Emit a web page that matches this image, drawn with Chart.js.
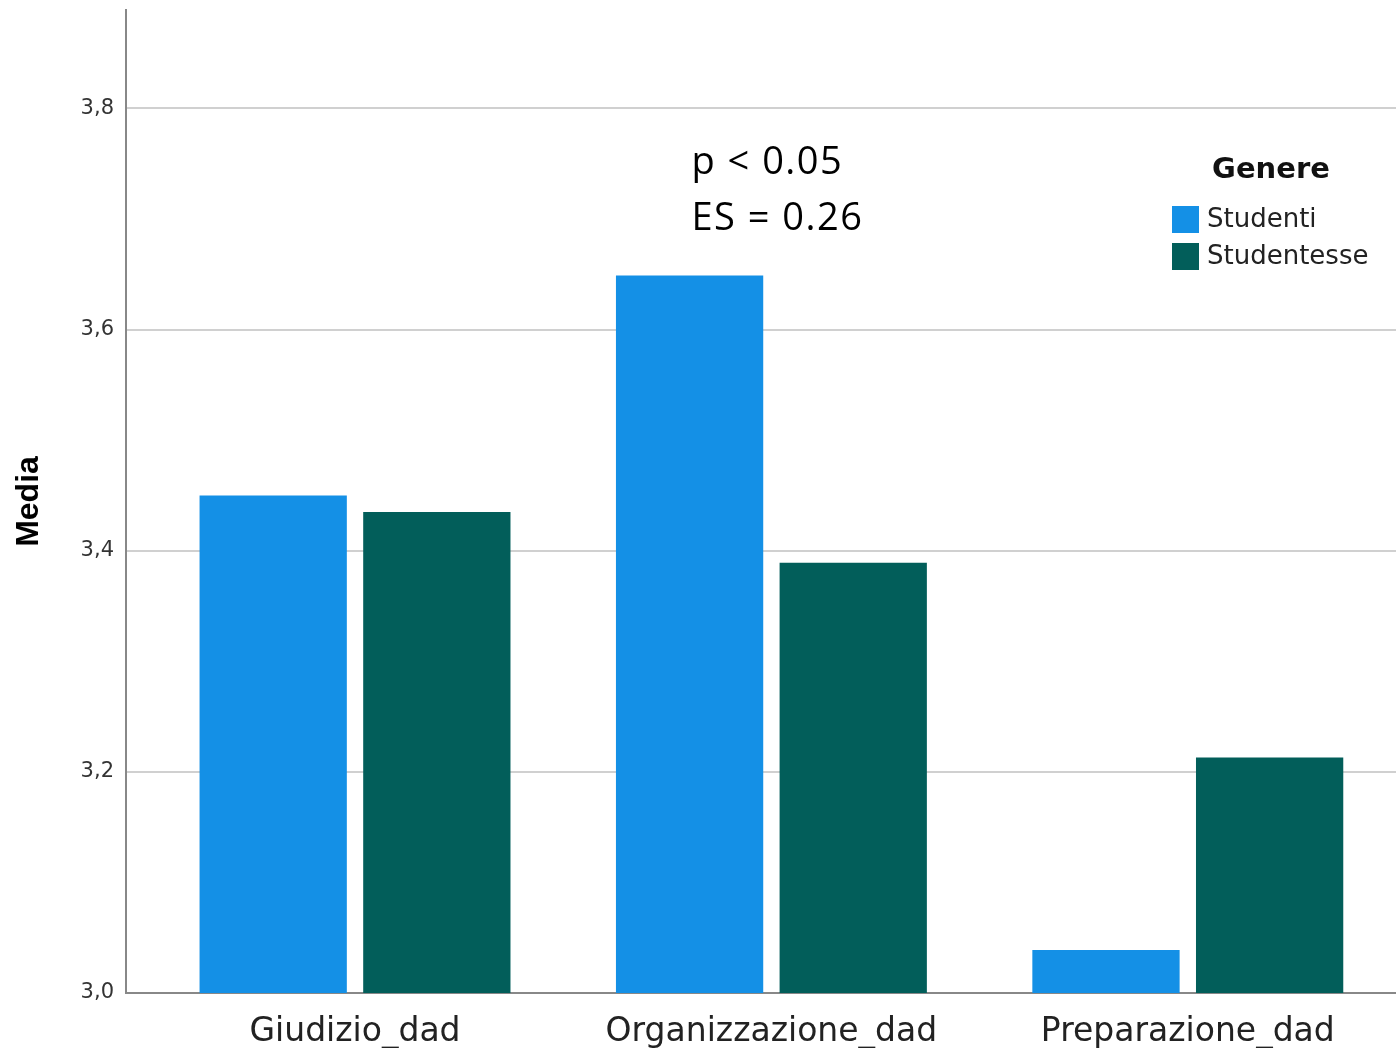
<!DOCTYPE html>
<html>
<head>
<meta charset="utf-8">
<script src="https://cdn.jsdelivr.net/npm/chart.js@4/dist/chart.umd.min.js"></script>
<style>
  body { margin: 0; background: #fff; overflow: hidden; }
</style>
</head>
<body>
<canvas id="graphCanvas" width="1396" height="1048"></canvas>
<script>
const categories = ['Giudizio_dad', 'Organizzazione_dad', 'Preparazione_dad'];
const studenti = [3.45, 3.649, 3.039];
const studentesse = [3.435, 3.389, 3.213];
const seriesNames = ['Studenti', 'Studentesse'];
const yTicks = [3.0, 3.2, 3.4, 3.6, 3.8];
const legendTitle = 'Genere';
const noteLines = ['p < 0.05', 'ES = 0.26'];

const toPoints = vals => vals.map((v, i) => ({ x: i, y: v }));

// legend drawn by hand, SPSS style
const legendPlugin = {
  id: 'spssLegend',
  afterDraw(chart) {
    const ctx = chart.ctx;
    const right = chart.chartArea.right;
    const x0 = right - 224;
    ctx.save();
    ctx.fillStyle = '#111';
    ctx.font = 'bold 29px "DejaVu Sans"';
    ctx.textAlign = 'center';
    ctx.textBaseline = 'alphabetic';
    ctx.fillText(legendTitle, x0 + 99, 178);
    ctx.textAlign = 'left';
    ctx.textBaseline = 'middle';
    ctx.font = '26px "DejaVu Sans"';
    chart.data.datasets.forEach((ds, i) => {
      const y = 206 + i * 37;
      ctx.fillStyle = ds.backgroundColor;
      ctx.fillRect(x0, y, 27, 27);
      ctx.fillStyle = '#222';
      ctx.fillText(ds.label, x0 + 35, y + 14);
    });
    ctx.restore();
  }
};

// p-value / effect size note over the second group
const notePlugin = {
  id: 'note',
  afterDraw(chart) {
    const ctx = chart.ctx;
    const xs = chart.scales.x, ys = chart.scales.y;
    const x = xs.getPixelForValue(1) - 80;
    const y = ys.getPixelForValue(3.741);
    ctx.save();
    ctx.fillStyle = '#000';
    ctx.font = '38px "Open Sans"';
    ctx.letterSpacing = '1.5px';
    ctx.textAlign = 'left';
    ctx.textBaseline = 'alphabetic';
    noteLines.forEach((t, i) => ctx.fillText(t, x, y + i * 56));
    ctx.restore();
  }
};

const ctx = document.getElementById('graphCanvas').getContext('2d');
new Chart(ctx, {
  type: 'bar',
  data: {
    datasets: [
      { label: seriesNames[0], data: toPoints(studenti), backgroundColor: '#1490E6', borderWidth: 0 },
      { label: seriesNames[1], data: toPoints(studentesse), backgroundColor: '#025E5A', borderWidth: 0 }
    ]
  },
  options: {
    responsive: false,
    animation: false,
    layout: { padding: { top: 10, left: 0, right: 0, bottom: 0 } },
    datasets: { bar: { categoryPercentage: 0.786, barPercentage: 0.9 } },
    plugins: {
      legend: { display: false },
      tooltip: { enabled: false }
    },
    scales: {
      x: {
        type: 'linear',
        min: -0.55,
        max: 2.5,
        offset: false,
        afterBuildTicks: s => { s.ticks = categories.map((c, i) => ({ value: i })); },
        afterFit: s => { s.height = 55; s.paddingLeft = 0; s.paddingRight = 0; },
        grid: { display: false, drawTicks: false },
        border: { display: true, color: '#888', width: 2 },
        ticks: {
          callback: v => categories[v],
          font: { family: '"DejaVu Sans"', size: 33 },
          color: '#222',
          padding: 20,
          maxRotation: 0,
          autoSkip: false
        }
      },
      y: {
        min: 3.0,
        max: 3.889,
        afterBuildTicks: s => { s.ticks = yTicks.map(v => ({ value: v })); },
        afterFit: s => { s.width = 126; s.paddingTop = 0; s.paddingBottom = 0; },
        grid: { color: '#d0d0d0', lineWidth: 2, drawTicks: false },
        border: { display: true, color: '#888', width: 2 },
        ticks: {
          callback: v => v.toFixed(1).replace('.', ','),
          font: { family: '"DejaVu Sans"', size: 21 },
          color: '#333',
          padding: 12
        },
        title: {
          display: true,
          text: 'Media',
          font: { family: '"Liberation Sans"', size: 32, weight: 'bold' },
          color: '#000',
          padding: { top: 10, bottom: 0 }
        }
      }
    }
  },
  plugins: [legendPlugin, notePlugin]
});
</script>
</body>
</html>
